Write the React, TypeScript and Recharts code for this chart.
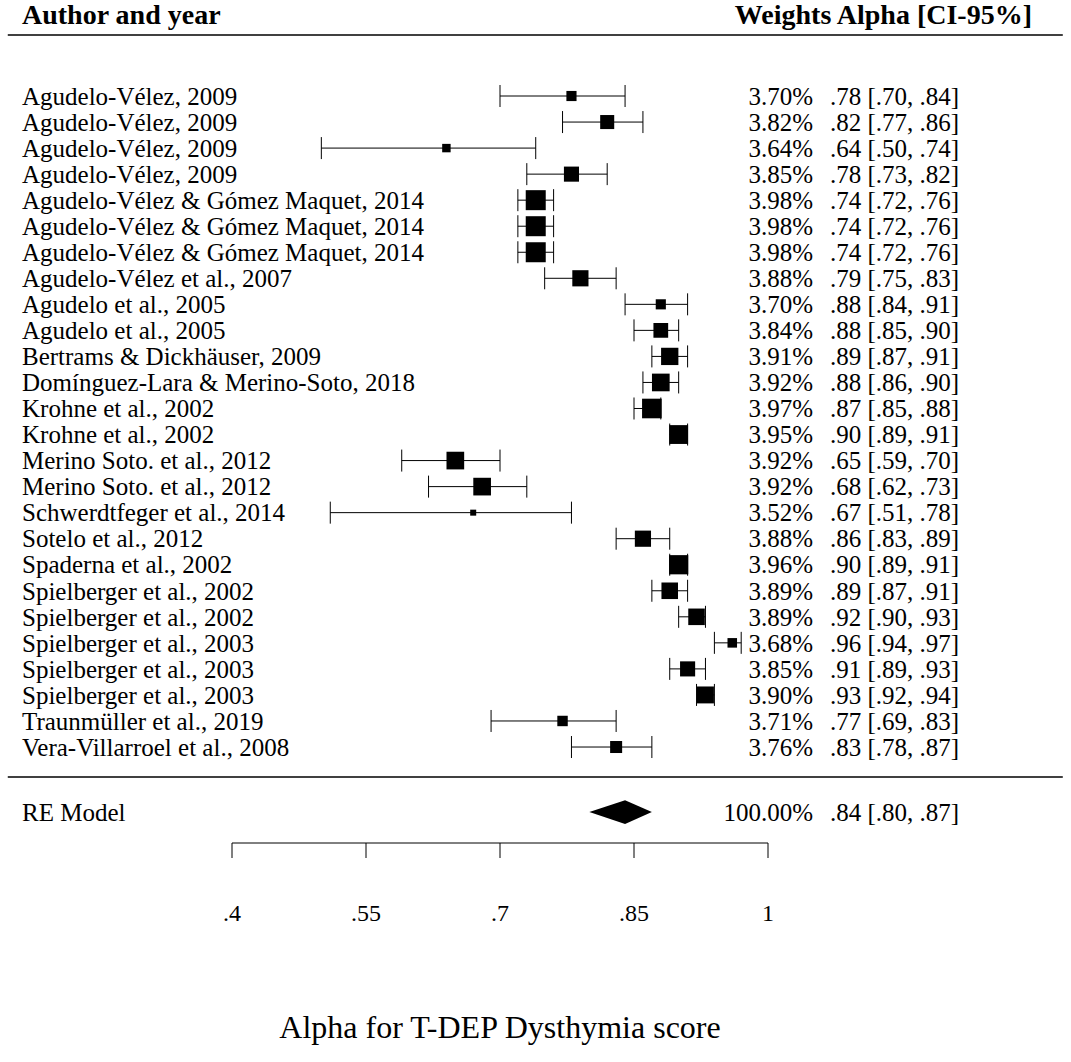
import React from "react";
import {
  ComposedChart,
  Scatter,
  Area,
  XAxis,
  YAxis,
  ErrorBar,
  ReferenceLine,
} from "recharts";

const studies = [
  "Agudelo-Vélez, 2009",
  "Agudelo-Vélez, 2009",
  "Agudelo-Vélez, 2009",
  "Agudelo-Vélez, 2009",
  "Agudelo-Vélez & Gómez Maquet, 2014",
  "Agudelo-Vélez & Gómez Maquet, 2014",
  "Agudelo-Vélez & Gómez Maquet, 2014",
  "Agudelo-Vélez et al., 2007",
  "Agudelo et al., 2005",
  "Agudelo et al., 2005",
  "Bertrams & Dickhäuser, 2009",
  "Domínguez-Lara & Merino-Soto, 2018",
  "Krohne et al., 2002",
  "Krohne et al., 2002",
  "Merino Soto. et al., 2012",
  "Merino Soto. et al., 2012",
  "Schwerdtfeger et al., 2014",
  "Sotelo et al., 2012",
  "Spaderna et al., 2002",
  "Spielberger et al., 2002",
  "Spielberger et al., 2002",
  "Spielberger et al., 2003",
  "Spielberger et al., 2003",
  "Spielberger et al., 2003",
  "Traunmüller et al., 2019",
  "Vera-Villarroel et al., 2008",
];

const weights = [
  3.7, 3.82, 3.64, 3.85, 3.98, 3.98, 3.98, 3.88, 3.7, 3.84, 3.91, 3.92, 3.97,
  3.95, 3.92, 3.92, 3.52, 3.88, 3.96, 3.89, 3.89, 3.68, 3.85, 3.9, 3.71, 3.76,
];

const alphas = [
  0.78, 0.82, 0.64, 0.78, 0.74, 0.74, 0.74, 0.79, 0.88, 0.88, 0.89, 0.88, 0.87,
  0.9, 0.65, 0.68, 0.67, 0.86, 0.9, 0.89, 0.92, 0.96, 0.91, 0.93, 0.77, 0.83,
];

const lowers = [
  0.7, 0.77, 0.5, 0.73, 0.72, 0.72, 0.72, 0.75, 0.84, 0.85, 0.87, 0.86, 0.85,
  0.89, 0.59, 0.62, 0.51, 0.83, 0.89, 0.87, 0.9, 0.94, 0.89, 0.92, 0.69, 0.78,
];

const uppers = [
  0.84, 0.86, 0.74, 0.82, 0.76, 0.76, 0.76, 0.83, 0.91, 0.9, 0.91, 0.9, 0.88,
  0.91, 0.7, 0.73, 0.78, 0.89, 0.91, 0.91, 0.93, 0.97, 0.93, 0.94, 0.83, 0.87,
];

const pooledLabel = "RE Model";
const pooledWeight = 100;
const pooledAlpha = 0.84;
const pooledLower = 0.8;
const pooledUpper = 0.87;

const xTicks = [0.4, 0.55, 0.7, 0.85, 1];

const FONT = "'Liberation Serif', 'Times New Roman', serif";
const FS = 25;
const FS_HEAD = 28;
const FS_TICK = 24;
const FS_TITLE = 32;

// vertical layout in row units (row 0 = first study)
const HEADER_ROW = -3.15;
const HEADER_RULE = -2.34;
const FOOT_RULE = 26.15;
const POOLED_ROW = 27.5;
const DIAMOND_HALF = 0.46;
const Y_DOMAIN: [number, number] = [-3.687, 28.686];
const TABLE_X: [number, number] = [0.149, 1.33];

const fmtAlpha = (v: number) => v.toFixed(2).replace(/^0/, "");
const fmtTick = (v: number) => (v === 1 ? "1" : String(v).replace(/^0/, ""));

const rows = studies.map((name, i) => ({
  name,
  x: alphas[i],
  y: i,
  err: [alphas[i] - lowers[i], uppers[i] - alphas[i]],
  w: weights[i],
}));

const diamond = [
  { x: pooledLower, r: [POOLED_ROW, POOLED_ROW] },
  { x: pooledAlpha, r: [POOLED_ROW - DIAMOND_HALF, POOLED_ROW + DIAMOND_HALF] },
  { x: pooledUpper, r: [POOLED_ROW, POOLED_ROW] },
];

// box side grows with the study weight
const wMin = Math.min(...weights);
const wMax = Math.max(...weights);
const boxSize = (w: number) =>
  6 + 14 * Math.pow((w - wMin) / (wMax - wMin), 1.3);

const Box = (props: any) => {
  const { cx, cy, payload } = props;
  if (cx == null || cy == null) return null;
  const s = boxSize(payload.w);
  return <rect x={cx - s / 2} y={cy - s / 2} width={s} height={s} fill="#000" />;
};

const yTicks = [HEADER_ROW, ...studies.map((_, i) => i), POOLED_ROW];

const LeftTick = ({ y, payload }: any) => {
  const v = payload.value;
  let label = "";
  let bold = false;
  if (v === HEADER_ROW) {
    label = "Author and year";
    bold = true;
  } else if (v === POOLED_ROW) {
    label = pooledLabel;
  } else {
    label = studies[Math.round(v)];
  }
  return (
    <text
      x={22}
      y={y}
      dy="0.35em"
      fontFamily={FONT}
      fontSize={bold ? FS_HEAD : FS}
      fontWeight={bold ? "bold" : "normal"}
      fill="#000"
    >
      {label}
    </text>
  );
};

const RightTick = ({ y, payload }: any) => {
  const v = payload.value;
  if (v === HEADER_ROW) {
    return (
      <text
        x={1032}
        y={y}
        dy="0.35em"
        textAnchor="end"
        fontFamily={FONT}
        fontSize={FS_HEAD}
        fontWeight="bold"
        fill="#000"
      >
        Weights Alpha [CI-95%]
      </text>
    );
  }
  let w: number, a: number, lo: number, hi: number;
  if (v === POOLED_ROW) {
    w = pooledWeight;
    a = pooledAlpha;
    lo = pooledLower;
    hi = pooledUpper;
  } else {
    const i = Math.round(v);
    w = weights[i];
    a = alphas[i];
    lo = lowers[i];
    hi = uppers[i];
  }
  return (
    <g fontFamily={FONT} fontSize={FS} fill="#000">
      <text x={813} y={y} dy="0.35em" textAnchor="end">
        {w.toFixed(2)}%
      </text>
      <text x={830} y={y} dy="0.35em">
        {`${fmtAlpha(a)} [${fmtAlpha(lo)}, ${fmtAlpha(hi)}]`}
      </text>
    </g>
  );
};

export default function App() {
  return (
    <div style={{ position: "absolute", left: 0, top: 0, background: "#fff" }}>
      <ComposedChart
        width={1071}
        height={1062}
        margin={{ top: 0, right: 0, bottom: 0, left: 0 }}
      >
        <XAxis
          type="number"
          dataKey="x"
          domain={[0.4, 1]}
          ticks={xTicks}
          tickFormatter={fmtTick}
          allowDataOverflow
          height={219}
          stroke="#000"
          tickSize={15}
          tickMargin={46}
          tick={{ fill: "#000", fontFamily: FONT, fontSize: FS_TICK }}
          label={{
            value: "Alpha for T-DEP Dysthymia score",
            position: "insideBottom",
            offset: 24,
            fill: "#000",
            fontFamily: FONT,
            fontSize: FS_TITLE,
          }}
        />
        <YAxis
          yAxisId="left"
          type="number"
          dataKey="y"
          domain={Y_DOMAIN}
          reversed
          allowDataOverflow
          ticks={yTicks}
          interval={0}
          width={232}
          axisLine={false}
          tickLine={false}
          tickSize={0}
          tick={<LeftTick />}
        />
        <YAxis
          yAxisId="right"
          orientation="right"
          type="number"
          domain={Y_DOMAIN}
          reversed
          allowDataOverflow
          ticks={yTicks}
          interval={0}
          width={303}
          axisLine={false}
          tickLine={false}
          tickSize={0}
          tick={<RightTick />}
        />
        <ReferenceLine
          yAxisId="left"
          ifOverflow="visible"
          stroke="#000"
          strokeWidth={1.5}
          segment={[
            { x: TABLE_X[0], y: HEADER_RULE },
            { x: TABLE_X[1], y: HEADER_RULE },
          ]}
        />
        <ReferenceLine
          yAxisId="left"
          ifOverflow="visible"
          stroke="#000"
          strokeWidth={1.5}
          segment={[
            { x: TABLE_X[0], y: FOOT_RULE },
            { x: TABLE_X[1], y: FOOT_RULE },
          ]}
        />
        <Scatter
          yAxisId="left"
          data={rows}
          shape={<Box />}
          isAnimationActive={false}
        >
          <ErrorBar
            dataKey="err"
            direction="x"
            width={11}
            stroke="#000"
            strokeWidth={1}
            isAnimationActive={false}
          />
        </Scatter>
        <Area
          yAxisId="left"
          data={diamond}
          dataKey="r"
          type="linear"
          stroke="none"
          fill="#000"
          fillOpacity={1}
          dot={false}
          activeDot={false}
          isAnimationActive={false}
        />
      </ComposedChart>
    </div>
  );
}
